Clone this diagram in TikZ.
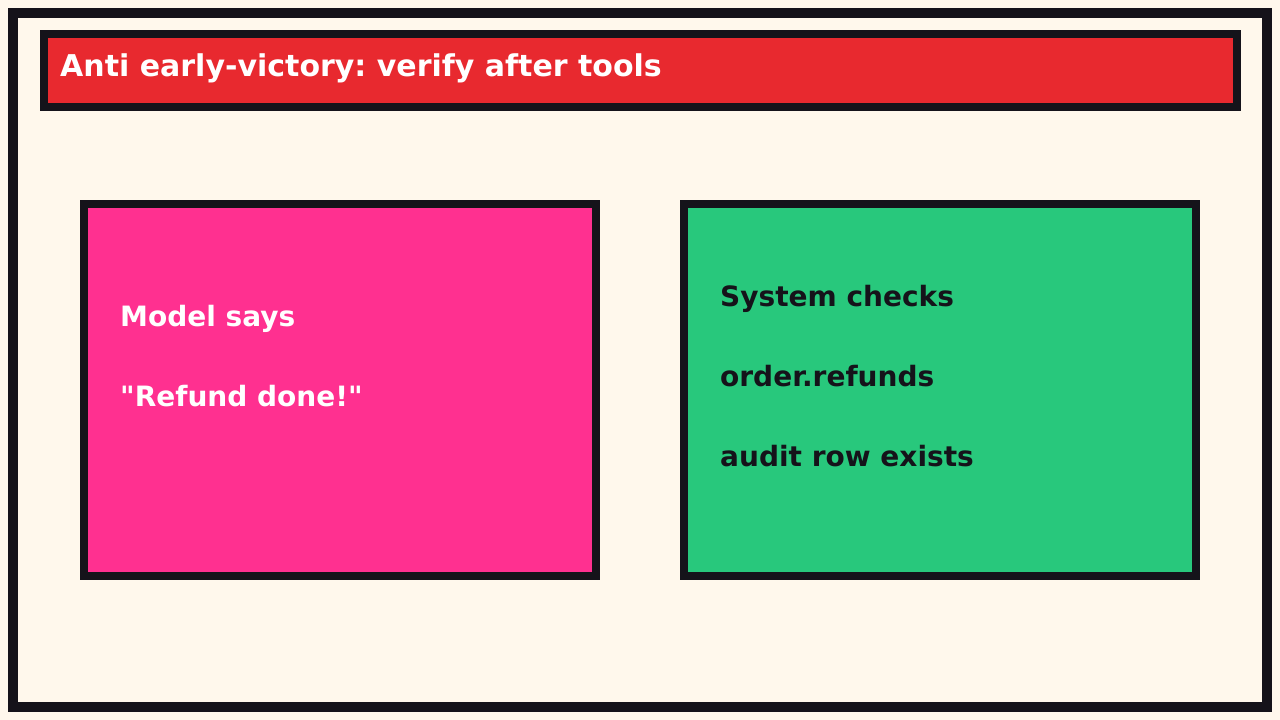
\documentclass[tikz,border=0pt]{standalone}
\usepackage{fontspec}
\defaultfontfeatures[\rmfamily]{}
\setmainfont{DejaVu Sans}[Ligatures=ResetAll]
\frenchspacing
\definecolor{paper}{HTML}{FFF8EC}
\definecolor{ink}{HTML}{15131A}
\definecolor{titlered}{HTML}{E8292F}
\definecolor{claimpink}{HTML}{FF3090}
\definecolor{checkgreen}{HTML}{28C87C}
\tikzset{
    panel/.style={draw=ink, line width=8pt},
    say/.style={anchor=base west, inner sep=0pt, font=\bfseries\fontsize{28}{32}\selectfont},
}
\begin{document}
\begin{tikzpicture}[x=1pt, y=-1pt]
    \fill[paper] (0,0) rectangle (1280,720);
    \useasboundingbox (0,0) rectangle (1280,720);
    \draw[ink, line width=10pt] (13,13) rectangle (1267,707);

    \draw[panel, fill=titlered] (44,34) rectangle (1236.5,106.5);
    \node[say, text=white, font=\bfseries\fontsize{30}{34}\selectfont] (title) at (60,76) {Anti early-victory: verify after tools};

    \draw[panel, fill=claimpink] (84,204) rectangle (596,576);
    \node[say, text=white] (model) at (120,326) {Model says};
    \node[say, text=white] (claim) at (120,406) {"Refund done!"};

    \draw[panel, fill=checkgreen] (684,204) rectangle (1196,576);
    \node[say, text=ink] (system) at (720,306) {System checks};
    \node[say, text=ink] (refunds) at (720,386) {order.refunds};
    \node[say, text=ink] (audit) at (720,466) {audit row exists};
\end{tikzpicture}
\end{document}
